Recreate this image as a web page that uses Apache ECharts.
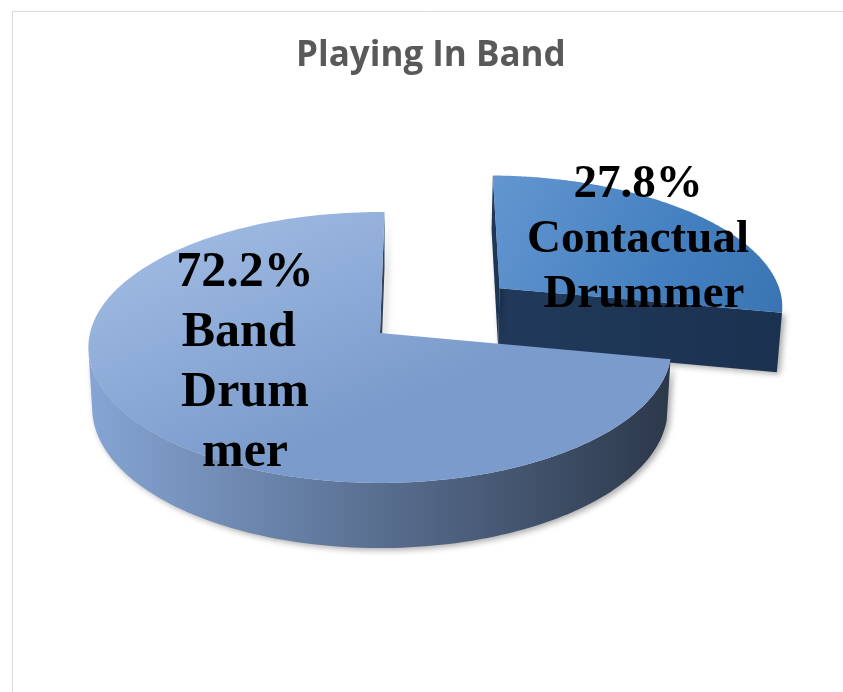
<!DOCTYPE html>
<html>
<head>
<meta charset="utf-8">
<script src="https://cdn.jsdelivr.net/npm/echarts@6/dist/echarts.min.js"></script>
<style>
html,body{margin:0;padding:0;background:#fff;}
#chart{width:843px;height:692px;}
</style>
</head>
<body>
<div id="chart"></div>
<script>
// ---- data ----
const chartTitle = 'Playing In Band';
const categories = ['Band Drummer', 'Contactual Drummer'];
const values = [72.2, 27.8];
const explodeAmount = [0, 0.55];

// ---- view / style (not data) ----
const VIEW = {cx: 380, cy: 333, R: 1, D: 8.29, f: 2404, phi: 27.5 * Math.PI / 180, H: 0.237, start: 89};
const SHADOW = {shadowBlur: 6, shadowOffsetX: 3, shadowOffsetY: 2, shadowColor: 'rgba(0,0,0,0.35)'};
const STYLE = [
  { // Band Drummer
    top: {type: 'linear', x: 0, y: 0, x2: 0.2, y2: 1, colorStops: [{offset: 0, color: '#a6c1e7'}, {offset: 1, color: '#7b9bcc'}]},
    wall: {type: 'linear', x: 0, y: 0, x2: 1, y2: 0, colorStops: [{offset: 0, color: '#86a5d4'}, {offset: 0.45, color: '#5d7497'}, {offset: 1, color: '#2c384a'}]},
    cut: '#33425a',
    label: {x: 245, y: 363, size: 50, width: 150, lineHeight: 60}
  },
  { // Contactual Drummer
    top: {type: 'linear', x: 0, y: 0, x2: 1, y2: 1, colorStops: [{offset: 0, color: '#6396d0'}, {offset: 0.6, color: '#4480c0'}, {offset: 1, color: '#3a74b3'}]},
    wall: {type: 'linear', x: 0, y: 0, x2: 1, y2: 0, colorStops: [{offset: 0, color: '#1e3555'}, {offset: 1, color: '#1c3452'}]},
    cut: {type: 'linear', x: 0, y: 0, x2: 1, y2: 0, colorStops: [{offset: 0, color: '#213a5b'}, {offset: 1, color: '#1b3150'}]},
    label: {x: 638, y: 240, size: 47, width: 240, lineHeight: 55}
  }
];

const total = values.reduce((a, b) => a + b, 0);
const cosP = Math.cos(VIEW.phi), sinP = Math.sin(VIEW.phi);

function proj(x, y, z) {
  const rx = x, ry = y + VIEW.D * cosP, rz = z - VIEW.D * sinP;
  const depth = ry * cosP - rz * sinP;
  const sy = ry * sinP + rz * cosP;
  return [VIEW.cx + VIEW.f * rx / depth, VIEW.cy - VIEW.f * sy / depth];
}

function withShadow(fill) {
  return Object.assign({fill: fill}, SHADOW);
}

function renderItem(params, api) {
  const i = params.dataIndex;
  const v = api.value(0);
  let cum = 0;
  for (let k = 0; k < i; k++) cum += values[k];
  const a0 = (VIEW.start + cum / total * 360) * Math.PI / 180;
  const a1 = a0 + v / total * 2 * Math.PI;
  const mid = (a0 + a1) / 2;
  const ex = explodeAmount[i];
  const ox = ex * Math.cos(mid), oy = ex * Math.sin(mid);
  const R = VIEW.R, H = VIEW.H;
  const st = STYLE[i];
  const base = i === 0 ? 100 : 0;
  const children = [];
  const N = 180;
  const C = [0, -VIEW.D * cosP, VIEW.D * sinP];

  // radial cut walls
  const edges = [[a0, [Math.sin(a0), -Math.cos(a0)]], [a1, [-Math.sin(a1), Math.cos(a1)]]];
  edges.forEach(function (e) {
    const a = e[0], n = e[1];
    const dot = n[0] * (C[0] - ox) + n[1] * (C[1] - oy);
    if (dot > 0) {
      const px = ox + R * Math.cos(a), py = oy + R * Math.sin(a);
      children.push({
        type: 'polygon', z2: base + 1,
        shape: {points: [proj(ox, oy, 0), proj(px, py, 0), proj(px, py, -H), proj(ox, oy, -H)]},
        style: withShadow(st.cut)
      });
    }
  });

  // outer wall (visible runs)
  let run = [];
  const flush = function () {
    if (run.length > 1) {
      const pts = [];
      run.forEach(function (t) { pts.push(proj(ox + R * Math.cos(t), oy + R * Math.sin(t), 0)); });
      for (let k = run.length - 1; k >= 0; k--) {
        const t = run[k];
        pts.push(proj(ox + R * Math.cos(t), oy + R * Math.sin(t), -H));
      }
      children.push({type: 'polygon', z2: base + 2, shape: {points: pts}, style: withShadow(st.wall)});
    }
    run = [];
  };
  for (let k = 0; k <= N; k++) {
    const t = a0 + (a1 - a0) * k / N;
    const vis = -1 - ox * Math.cos(t) - oy * Math.sin(t) - VIEW.D * cosP * Math.sin(t);
    if (vis > 0) run.push(t); else flush();
  }
  flush();

  // top face
  const topPts = [proj(ox, oy, 0)];
  for (let k = 0; k <= N; k++) {
    const t = a0 + (a1 - a0) * k / N;
    topPts.push(proj(ox + R * Math.cos(t), oy + R * Math.sin(t), 0));
  }
  children.push({type: 'polygon', z2: base + 3, shape: {points: topPts}, style: {fill: st.top}});

  // label
  const pct = (v / total * 100).toFixed(1) + '%';
  children.push({
    type: 'text', z2: 300,
    style: {
      text: pct + '\n' + categories[i],
      x: st.label.x, y: st.label.y,
      align: 'center', verticalAlign: 'middle',
      fontFamily: '"Liberation Serif", "Times New Roman", serif',
      fontWeight: 'bold', fontSize: st.label.size, lineHeight: st.label.lineHeight,
      width: st.label.width, overflow: i === 0 ? 'breakAll' : 'break',
      fill: '#000'
    }
  });

  return {type: 'group', children: children};
}

const chart = echarts.init(document.getElementById('chart'), null, {renderer: 'canvas'});
chart.setOption({
  backgroundColor: '#ffffff',
  animation: false,
  title: {
    text: chartTitle, left: 291, top: 34,
    textStyle: {fontFamily: '"Open Sans", sans-serif', fontWeight: 'bold', fontSize: 35, color: '#595959'}
  },
  graphic: [{
    type: 'rect', left: 10, top: 9, silent: true,
    shape: {width: 840, height: 690},
    style: {fill: 'none', stroke: '#d9d9d9', lineWidth: 1}
  }],
  series: [{
    type: 'custom',
    coordinateSystem: 'none',
    renderItem: renderItem,
    data: values.map((v, i) => ({name: categories[i], value: v}))
  }]
});
</script>
</body>
</html>
